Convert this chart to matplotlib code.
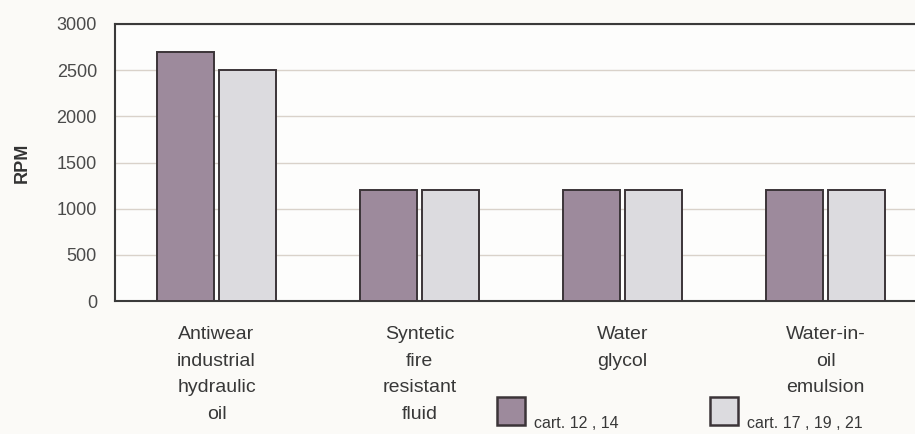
import numpy as np
import matplotlib.pyplot as plt
import matplotlib.patches as patches

plt.rcParams['font.family'] = ['Liberation Sans', 'DejaVu Sans']

categories = ["Antiwear\nindustrial\nhydraulic\noil",
              "Syntetic\nfire\nresistant\nfluid",
              "Water\nglycol",
              "Water-in-\noil\nemulsion"]
series_names = ["cart. 12 , 14", "cart. 17 , 19 , 21"]
rpm_a = [2700, 1200, 1200, 1200]
rpm_b = [2500, 1200, 1200, 1200]
yticks = [0, 500, 1000, 1500, 2000, 2500, 3000]

col_a = '#9d8a9c'
col_b = '#dcdbdf'
edge = '#3b3438'

W, H = 915, 434
fig = plt.figure(figsize=(W / 100, H / 100), dpi=100)
fig.patch.set_facecolor('#fbfaf7')

# axes runs off the right edge, like the scanned page
ax = fig.add_axes([115 / W, (H - 301) / H, (927 - 115) / W, (301 - 24) / H])
ax.set_facecolor('#fdfdfc')

x = np.arange(len(categories))
w = 0.28
gap = 0.013
ax.bar(x - w / 2 - gap, rpm_a, w, color=col_a, edgecolor=edge, linewidth=1.4, zorder=3)
ax.bar(x + w / 2 + gap, rpm_b, w, color=col_b, edgecolor=edge, linewidth=1.4, zorder=3)

ax.set_xlim(-0.5, 3.5)
ax.set_ylim(0, 3000)
ax.set_yticks(yticks)
ax.set_yticklabels([str(v) for v in yticks], fontsize=13, color='#4a4a4a')
ax.yaxis.grid(True, color='#d9d2ca', linewidth=1.0, zorder=0)
ax.tick_params(axis='y', length=0, pad=13)

ax.set_xticks(x)
ax.set_xticklabels(categories, fontsize=14, color='#383838', linespacing=1.75, va='top')
ax.tick_params(axis='x', length=0, pad=18)

for s in ['left', 'top', 'bottom']:
    ax.spines[s].set_color('#3a3a3a')
    ax.spines[s].set_linewidth(1.5)
ax.spines['right'].set_visible(False)

fig.text(22 / W, (H - 163) / H, "RPM", fontsize=13, fontweight='bold', color='#333333',
         rotation=90, ha='center', va='center')

# legend boxes with labels set low to the right
for (px, name, c) in [(497, series_names[0], col_a), (710, series_names[1], col_b)]:
    fig.add_artist(patches.Rectangle((px / W, (H - 425) / H), 28 / W, 28 / H,
                                     transform=fig.transFigure, facecolor=c,
                                     edgecolor=edge, linewidth=1.8))
    fig.text((px + 37) / W, (H - 431) / H, name, fontsize=11.5, color='#383838',
             ha='left', va='bottom')

fig.savefig('out.png', dpi=100, facecolor=fig.get_facecolor())
